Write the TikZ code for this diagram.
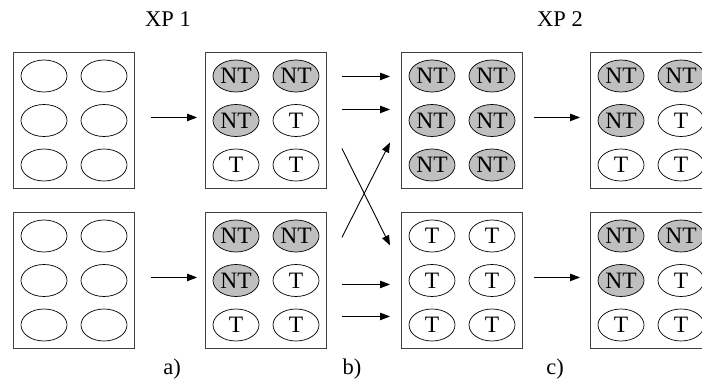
\documentclass[tikz,border=0pt]{standalone}
\usepackage{fontspec}
\setmainfont{Liberation Serif}
\usetikzlibrary{arrows.meta,shapes.geometric}
\def\txtE{}\def\txtT{T}\def\txtN{NT}
\begin{document}
\begin{tikzpicture}[x=1pt,y=-1pt,
  box/.style={draw=black!75,line width=0.9pt,minimum width=121pt,minimum height=136pt,inner sep=0pt,anchor=north west},
  cell/.style={ellipse,draw=black,line width=0.7pt,minimum width=46pt,minimum height=32pt,inner sep=0pt,font=\fontsize{23.5}{26}\selectfont},
  cE/.style={cell,fill=white},
  cT/.style={cell,fill=white},
  cN/.style={cell,fill=black!25},
  arr/.style={-{Triangle[length=10pt,width=7.5pt]},line width=0.9pt},
  lab/.style={font=\fontsize{22.5}{26}\selectfont,anchor=base,inner sep=0pt}]
\useasboundingbox (0,0) rectangle (702,385);

\node[box] (A1) at (13,52) {};
\node[box] (A2) at (205,52) {};
\node[box] (A3) at (401,52) {};
\node[box] (A4) at (590,52) {};
\node[box] (B1) at (13,212) {};
\node[box] (B2) at (205,212) {};
\node[box] (B3) at (401,212) {};
\node[box] (B4) at (590,212) {};

\def\lE{E,E,E,E,E,E}
\def\lM{N,N,N,T,T,T}
\def\lN{N,N,N,N,N,N}
\def\lT{T,T,T,T,T,T}
\foreach \b/\l in {A1/\lE,A2/\lM,A3/\lN,A4/\lM,B1/\lE,B2/\lM,B3/\lT,B4/\lM}{
  \edef\cur{\l}
  \foreach \t [count=\i from 0] in \cur {
    \pgfmathtruncatemacro\col{mod(\i,2)}
    \pgfmathtruncatemacro\row{div(\i,2)}
    \pgfmathsetmacro\dx{31+60*\col}
    \pgfmathsetmacro\dy{-(24+44.5*\row)}
    \node[c\t] (\b-\row\col) at ([xshift=\dx pt,yshift=\dy pt]\b.north west) {\csname txt\t\endcsname};
  }
}

% a) arrows
\draw[arr,shorten <=16pt,shorten >=8pt] ([yshift=3pt]A1.east) -- ([yshift=3pt]A2.west);
\draw[arr,shorten <=16pt,shorten >=8pt] ([yshift=3pt]B1.east) -- ([yshift=3pt]B2.west);
% b) arrows
\draw[arr,shorten <=15pt,shorten >=11pt] ([yshift=44pt]A2.east) -- ([yshift=44pt]A3.west);
\draw[arr,shorten <=15pt,shorten >=11pt] ([yshift=11pt]A2.east) -- ([yshift=11pt]A3.west);
\draw[arr,shorten <=15pt,shorten >=11pt] ([yshift=-4pt]B2.east) -- ([yshift=-4pt]B3.west);
\draw[arr,shorten <=15pt,shorten >=11pt] ([yshift=-36pt]B2.east) -- ([yshift=-36pt]B3.west);
\draw[arr] ([xshift=15pt,yshift=-28pt]A2.east) -- ([xshift=-11pt,yshift=35pt]B3.west);
\draw[arr] ([xshift=15pt,yshift=43pt]B2.east) -- ([xshift=-11pt,yshift=-22pt]A3.west);
% c) arrows
\draw[arr,shorten <=11pt,shorten >=10pt] ([yshift=3pt]A3.east) -- ([yshift=3pt]A4.west);
\draw[arr,shorten <=11pt,shorten >=10pt] ([yshift=3pt]B3.east) -- ([yshift=3pt]B4.west);

\node[lab] (xp1) at (168,27) {XP 1};
\node[lab] (xp2) at (560,27) {XP 2};
\node[lab] (la) at (172,374) {a)};
\node[lab] (lb) at (352,374) {b)};
\node[lab] (lc) at (555,374) {c)};
\end{tikzpicture}
\end{document}
